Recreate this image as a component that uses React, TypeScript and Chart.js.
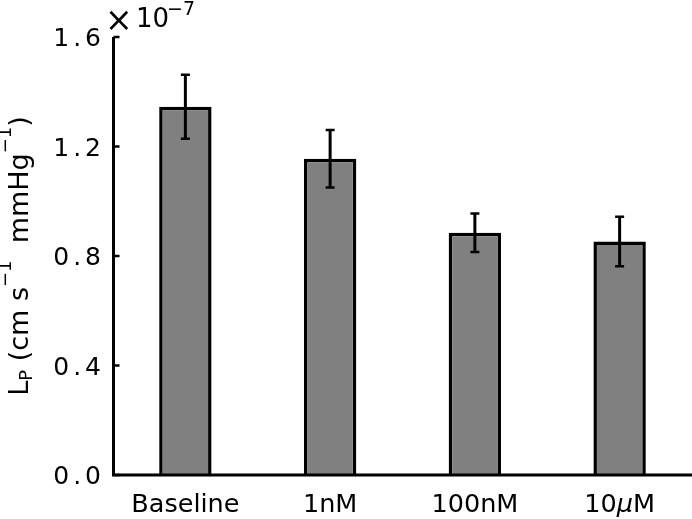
import React, { useEffect, useRef } from "react";
import { Chart, registerables } from "chart.js";

Chart.register(...registerables);

// ---- data ----
const categories = ["Baseline", "1nM", "100nM", "10μM"];
const meanValues = [1.345, 1.155, 0.885, 0.853];
const errorValues = [0.117, 0.105, 0.07, 0.09];
const yTickValues = [0.0, 0.4, 0.8, 1.2, 1.6];
const yTickLabels = ["0.0", "0.4", "0.8", "1.2", "1.6"];
const offsetBase = "10";
const offsetExponent = "−7";

const FONT = "'DejaVu Sans', 'Liberation Sans', sans-serif";

const drawSpaced = (ctx: CanvasRenderingContext2D, text: string, rightX: number, baseY: number, extra: number) => {
  const chars = text.split("");
  const widths = chars.map((c) => ctx.measureText(c).width);
  const total = widths.reduce((a, b) => a + b, 0) + extra * (chars.length - 1);
  let x = rightX - total;
  ctx.textAlign = "left";
  chars.forEach((c, i) => {
    ctx.fillText(c, x, baseY);
    x += widths[i] + extra;
  });
};

// draws a label centered at cx, with the Greek mu in italic (mathtext style)
const drawCategoryLabel = (ctx: CanvasRenderingContext2D, text: string, cx: number, baseY: number, size: number) => {
  const parts = text.split(/(μ)/).filter((s) => s.length > 0);
  const fonts = parts.map((p) => (p === "μ" ? `italic ${size}px ${FONT}` : `${size}px ${FONT}`));
  const widths = parts.map((p, i) => {
    ctx.font = fonts[i];
    return ctx.measureText(p).width;
  });
  const total = widths.reduce((a, b) => a + b, 0);
  let x = cx - total / 2;
  ctx.textAlign = "left";
  parts.forEach((p, i) => {
    ctx.font = fonts[i];
    ctx.fillText(p, x, baseY);
    x += widths[i];
  });
};

const decorPlugin = {
  id: "decor",
  afterDatasetsDraw(chart: any) {
    const ctx: CanvasRenderingContext2D = chart.ctx;
    const ys = chart.scales.y;
    const meta = chart.getDatasetMeta(0);
    ctx.save();
    ctx.strokeStyle = "#000";
    meanValues.forEach((v, i) => {
      const bar = meta.data[i];
      const x = bar.x;
      const yt = ys.getPixelForValue(v + errorValues[i]);
      const yb = ys.getPixelForValue(v - errorValues[i]);
      ctx.lineWidth = 3;
      ctx.beginPath();
      ctx.moveTo(x, yt);
      ctx.lineTo(x, yb);
      ctx.stroke();
      ctx.lineWidth = 2.5;
      ctx.beginPath();
      ctx.moveTo(x - 4.5, yt);
      ctx.lineTo(x + 4.5, yt);
      ctx.moveTo(x - 4.5, yb);
      ctx.lineTo(x + 4.5, yb);
      ctx.stroke();
    });
    ctx.restore();
  },
  afterDraw(chart: any) {
    const ctx: CanvasRenderingContext2D = chart.ctx;
    const xs = chart.scales.x;
    const ys = chart.scales.y;
    const area = chart.chartArea;
    ctx.save();
    ctx.strokeStyle = "#000";
    ctx.fillStyle = "#000";
    ctx.lineWidth = 3;
    ctx.lineCap = "butt";
    // spines
    const axX = area.left + 0.5;
    const axY = area.bottom;
    ctx.beginPath();
    ctx.moveTo(axX, ys.getPixelForValue(yTickValues[yTickValues.length - 1]));
    ctx.lineTo(axX, axY + 1.5);
    ctx.moveTo(axX - 1.5, axY);
    ctx.lineTo(area.right, axY);
    ctx.stroke();
    // y ticks (inward)
    ctx.lineWidth = 2.5;
    yTickValues.forEach((v) => {
      const y = ys.getPixelForValue(v);
      ctx.beginPath();
      ctx.moveTo(axX, y);
      ctx.lineTo(axX + 6, y);
      ctx.stroke();
    });
    // y tick labels
    ctx.font = `25px ${FONT}`;
    ctx.textBaseline = "alphabetic";
    yTickValues.forEach((v, i) => {
      const y = ys.getPixelForValue(v);
      drawSpaced(ctx, yTickLabels[i], 101, y + 9, 4);
    });
    // x labels
    categories.forEach((c, i) => {
      const x = xs.getPixelForValue(i);
      drawCategoryLabel(ctx, c, x, 512, 25.5);
    });
    // offset text
    ctx.textAlign = "left";
    ctx.font = `33px ${FONT}`;
    ctx.fillText("×", 105, 31);
    ctx.font = `26px ${FONT}`;
    ctx.fillText(offsetBase, 136, 27);
    ctx.font = `19px ${FONT}`;
    ctx.fillText(offsetExponent, 167, 15);
    // y axis label
    const pieces = [
      { t: "L", f: 27, dy: 0 },
      { t: "P", f: 18, dy: 4 },
      { t: " (cm s", f: 27, dy: 0 },
      { t: "−1", f: 18, dy: -17 },
      { t: "  mmHg", f: 27, dy: 0 },
      { t: "−1", f: 18, dy: -17 },
      { t: ")", f: 27, dy: 0 },
    ];
    const widths = pieces.map((p) => {
      ctx.font = `${p.f}px ${FONT}`;
      return ctx.measureText(p.t).width;
    });
    const total = widths.reduce((a, b) => a + b, 0);
    const cy = (area.top + area.bottom) / 2;
    ctx.translate(28, cy);
    ctx.rotate(-Math.PI / 2);
    let x = -total / 2;
    pieces.forEach((p, i) => {
      ctx.font = `${p.f}px ${FONT}`;
      ctx.fillText(p.t, x, p.dy);
      x += widths[i];
    });
    ctx.restore();
  },
};

export default function App() {
  const ref = useRef<HTMLCanvasElement | null>(null);
  useEffect(() => {
    if (!ref.current) return;
    const chart = new Chart(ref.current, {
      type: "bar",
      data: {
        labels: categories,
        datasets: [
          {
            data: meanValues,
            backgroundColor: "#808080",
            borderColor: "#000000",
            borderWidth: 3.5,
            borderSkipped: "bottom",
            categoryPercentage: 1,
            barPercentage: 0.362,
          },
        ],
      },
      options: {
        responsive: false,
        animation: false,
        devicePixelRatio: 1,
        layout: { padding: { left: 113, top: 37, right: 0, bottom: 44 } },
        plugins: { legend: { display: false }, tooltip: { enabled: false } },
        scales: {
          x: { display: false, offset: true },
          y: { display: false, min: 0, max: 1.6 },
        },
      },
      plugins: [decorPlugin],
    });
    return () => chart.destroy();
  }, []);
  return (
    <div style={{ position: "absolute", left: 0, top: 0, width: 692, height: 519, background: "#fff" }}>
      <canvas ref={ref} width={692} height={519} style={{ display: "block" }} />
    </div>
  );
}
